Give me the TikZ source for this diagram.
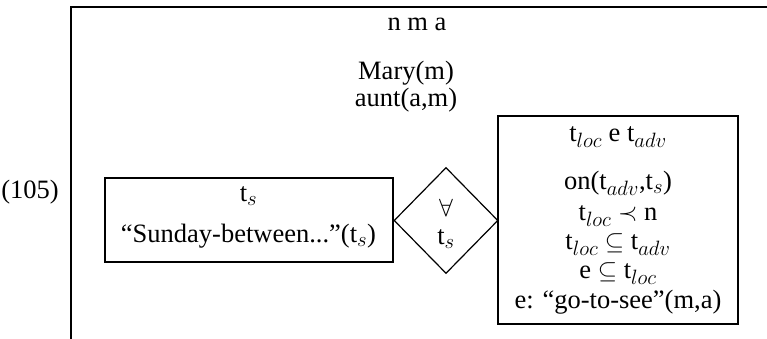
\documentclass[tikz,border=0pt]{standalone}
\usepackage{fontspec}
\setmainfont{Liberation Serif}
\DeclareMathSizes{26.5}{26.5}{20}{15}
\usetikzlibrary{shapes.geometric}
\begin{document}
\begin{tikzpicture}[x=1pt,y=-1pt,
  thickline/.style={line width=2pt},
  boxnode/.style={draw,line width=2pt,inner sep=0pt},
  txt/.style={inner sep=0pt,font=\fontsize{26.5}{31}\selectfont},
  quant/.style={draw,diamond,line width=1.2pt,inner sep=0pt,aspect=1}]
\useasboundingbox (0,0) rectangle (767,339);
\coordinate (otl) at (71,7);
\coordinate (otr) at (767,7);
\coordinate (obl) at (71,339);
\draw[thickline] (otr) -- (otl) -- (obl);
\node[txt] (num) at (30,192) {(105)};
\node[txt] (univ) at (417,24) {n m a};
\node[txt] (mary) at (406,73) {Mary(m)};
\node[txt] (aunt) at (406,100) {aunt(a,m)};
\node[boxnode,minimum width=288pt,minimum height=84pt] (lbox) at (248.5,220) {};
\node[txt] (lu) at (248.5,196) {t$_s$};
\node[txt] (lc) at (248.5,236) {``Sunday-between...''(t$_s$)};
\node[quant,minimum width=104pt,minimum height=106pt] (dia) at (446,220.5) {};
\node[txt] (forall) at (446,208) {$\forall$};
\node[txt] (dts) at (446,239) {t$_s$};
\node[boxnode,minimum width=240pt,minimum height=208pt] (rbox) at (618,220) {};
\node[txt] (r0) at (618,137) {t$_{loc}$ e t$_{adv}$};
\node[txt] (r1) at (618,183) {on(t$_{adv}$,t$_s$)};
\node[txt] (r2) at (618,216) {t$_{loc}$ $\prec$ n};
\node[txt] (r3) at (618,245) {t$_{loc}$ $\subseteq$ t$_{adv}$};
\node[txt] (r4) at (618,274) {e $\subseteq$ t$_{loc}$};
\node[txt] (r5) at (618,302) {e: ``go-to-see''(m,a)};
\end{tikzpicture}
\end{document}
